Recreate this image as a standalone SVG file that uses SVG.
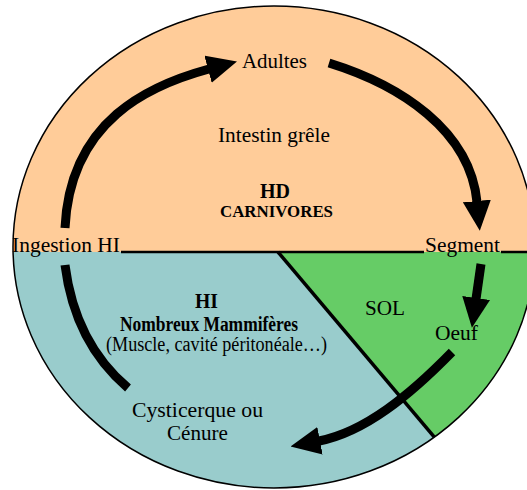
<svg xmlns="http://www.w3.org/2000/svg" width="527" height="490" viewBox="0 0 527 490">
<style>
text{font-family:"Liberation Serif","Times New Roman",serif;font-size:20px;fill:#000}
.b{font-weight:bold}
.s17{font-size:17px}
.arr{fill:none;stroke:#000;stroke-width:9}
.bd{stroke:#000;fill:none}
</style>
<defs>
<clipPath id="clip"><ellipse cx="274" cy="247" rx="261" ry="241"/></clipPath>
<marker id="head" markerUnits="userSpaceOnUse" markerWidth="30" markerHeight="28" viewBox="0 0 30 28" refX="1" refY="14" orient="auto">
<path d="M0,0 L30,14 L0,28 z" fill="#000"/>
</marker>
</defs>
<rect width="527" height="490" fill="#fff"/>
<g id="zones" clip-path="url(#clip)">
<rect x="0" y="0" width="600" height="252" fill="#FFCC99"/>
<polygon points="0,252 278,252 479,490 0,490" fill="#99CCCC"/>
<polygon points="278,252 600,252 600,490 479,490" fill="#66CC66"/>
<line class="bd" x1="278" y1="252" x2="479" y2="490" stroke-width="3.5"/>
</g>
<ellipse class="bd" cx="274" cy="247" rx="261" ry="241" stroke-width="1.5"/>
<g id="dividers">
<line class="bd" x1="121" y1="252" x2="424" y2="252" stroke-width="2.5"/>
<line class="bd" x1="501" y1="252" x2="540" y2="252" stroke-width="2.5"/>
</g>
<g id="connectors">
<path class="arr" d="M65,228 C70,120 150,85 209,69" marker-end="url(#head)"/>
<path class="arr" d="M329,63 C400,85 470,130 477,202" marker-end="url(#head)"/>
<path class="arr" d="M481,264 L476,299" marker-end="url(#head)"/>
<path class="arr" d="M452,352 C410,395 365,432 319,441" marker-end="url(#head)"/>
<path class="arr" d="M65,265 C72,320 95,360 128,388"/>
</g>
<g id="adultes"><text x="242" y="68" textLength="65" lengthAdjust="spacingAndGlyphs">Adultes</text></g>
<g id="hd">
<text x="218" y="142" textLength="112" lengthAdjust="spacingAndGlyphs">Intestin grêle</text>
<text class="b" x="260" y="198" font-size="19" textLength="30" lengthAdjust="spacingAndGlyphs">HD</text>
<text class="b s17" x="220" y="217" textLength="113" lengthAdjust="spacingAndGlyphs">CARNIVORES</text>
</g>
<g id="ingestion"><text x="12" y="252" textLength="108" lengthAdjust="spacingAndGlyphs">Ingestion HI</text></g>
<g id="segment"><text x="425" y="252" textLength="75" lengthAdjust="spacingAndGlyphs">Segment</text></g>
<g id="sol"><text x="365" y="315" textLength="40" lengthAdjust="spacingAndGlyphs">SOL</text></g>
<g id="oeuf"><text x="435" y="340" textLength="43" lengthAdjust="spacingAndGlyphs">Oeuf</text></g>
<g id="hi">
<text class="b" x="195" y="308" font-size="19" textLength="23" lengthAdjust="spacingAndGlyphs">HI</text>
<text class="b" x="120" y="331" font-size="15.5" textLength="178" lengthAdjust="spacingAndGlyphs">Nombreux Mammifères</text>
<text x="106" y="351" font-size="15.5" textLength="221" lengthAdjust="spacingAndGlyphs">(Muscle, cavité péritonéale…)</text>
</g>
<g id="cysticerque">
<text x="132" y="417" textLength="131" lengthAdjust="spacingAndGlyphs">Cysticerque ou</text>
<text x="167" y="440" textLength="61" lengthAdjust="spacingAndGlyphs">Cénure</text>
</g>
</svg>
